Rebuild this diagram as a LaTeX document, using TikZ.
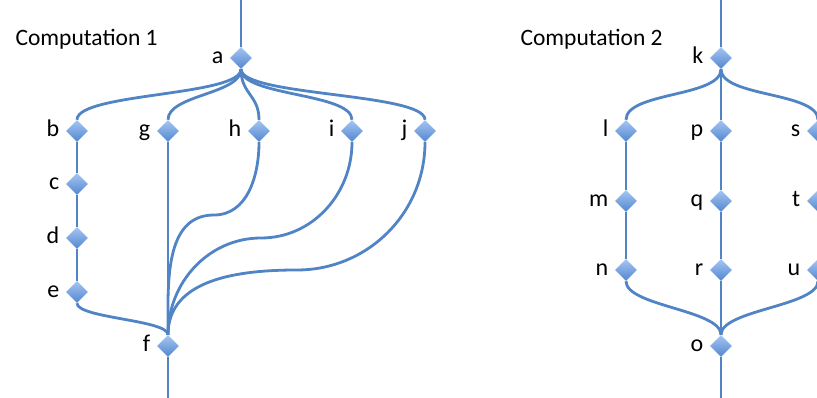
\documentclass[tikz,border=0pt]{standalone}
\usepackage{fontspec}
\setmainfont{Carlito}
\usetikzlibrary{shapes.geometric,backgrounds}
\definecolor{wire}{RGB}{80,132,196}
\definecolor{gemtop}{RGB}{165,198,242}
\definecolor{gembot}{RGB}{82,134,208}
\tikzset{
	gem/.style={diamond, minimum width=22pt, minimum height=22pt, inner sep=0pt,
		top color=gemtop, bottom color=gembot, draw=none},
	wire/.style={draw=wire, line width=2.8pt},
	sway/.style={out=-90, in=90, distance=#1},
	title/.style={anchor=base west, font=\fontsize{23.5}{28}\selectfont},
	every label/.style={font=\fontsize{24}{28}\selectfont, text height=17pt, text depth=5pt},
	label distance=3pt
}
\begin{document}
\begin{tikzpicture}[x=1pt, y=1pt]
	\useasboundingbox (0,0) rectangle (817,398);
	% Computation 1
	\node[title] (title1) at (12,352) {Computation 1};
	\node[gem, label=left:a] (a) at (241,340) {};
	\node[gem, label=left:b] (b) at (77,267) {};
	\node[gem, label=left:c] (c) at (77,214) {};
	\node[gem, label=left:d] (d) at (77,160) {};
	\node[gem, label=left:e] (e) at (77,106) {};
	\node[gem, label=left:g] (g) at (168,267) {};
	\node[gem, label=left:h] (h) at (259,267) {};
	\node[gem, label=left:i] (i) at (352,267) {};
	\node[gem, label=left:j] (j) at (425,267) {};
	\node[gem, label=left:f] (f) at (168,52) {};
	\coordinate (a in) at (241,398);
	\coordinate (f out) at (168,0);
	\coordinate (h bend) at (214,183);
	\coordinate (i bend) at (261,160);
	\coordinate (j bend) at (297,128);
	% Computation 2
	\node[title] (title2) at (517,352) {Computation 2};
	\node[gem, label=left:k] (k) at (721,340) {};
	\node[gem, label=left:l] (l) at (626,267) {};
	\node[gem, label=left:m] (m) at (626,197) {};
	\node[gem, label=left:n] (n) at (626,128) {};
	\node[gem, label=left:p] (p) at (721,267) {};
	\node[gem, label=left:q] (q) at (721,197) {};
	\node[gem, label=left:r] (r) at (721,128) {};
	\node[gem, label=left:s] (s) at (818,267) {};
	\node[gem, label=left:t] (t) at (818,197) {};
	\node[gem, label=left:u] (u) at (818,128) {};
	\node[gem, label=left:o] (o) at (721,52) {};
	\coordinate (k in) at (721,398);
	\coordinate (o out) at (721,0);
	\begin{scope}[on background layer]
		% fork and join of computation 1
		\draw[wire] (a in) -- (a);
		\draw[wire] (a.south) to[sway=27pt] (b.north);
		\draw[wire] (a.south) to[sway=25pt] (g.north);
		\draw[wire] (a.south) to[sway=25pt] (h.north);
		\draw[wire] (a.south) to[sway=27pt] (i.north);
		\draw[wire] (a.south) to[sway=27pt] (j.north);
		\draw[wire] (b) -- (c) -- (d) -- (e);
		\draw[wire] (e.south) to[sway=15pt] (f.north);
		\draw[wire] (g) -- (f);
		\draw[wire] (h.south) to[out=-90, in=0] (h bend) to[out=180, in=90] (f.north);
		\draw[wire] (i.south) to[out=-90, in=0] (i bend) to[out=180, in=90] (f.north);
		\draw[wire] (j.south) to[out=-90, in=0] (j bend) to[out=180, in=90] (f.north);
		\draw[wire] (f) -- (f out);
		% fork and join of computation 2
		\draw[wire] (k in) -- (k);
		\draw[wire] (k.south) to[sway=28pt] (l.north);
		\draw[wire] (k.south) to[sway=28pt] (s.north);
		\draw[wire] (k) -- (p) -- (q) -- (r) -- (o);
		\draw[wire] (l) -- (m) -- (n);
		\draw[wire] (s) -- (t) -- (u);
		\draw[wire] (n.south) to[sway=25pt] (o.north);
		\draw[wire] (u.south) to[sway=25pt] (o.north);
		\draw[wire] (o) -- (o out);
	\end{scope}
\end{tikzpicture}
\end{document}
